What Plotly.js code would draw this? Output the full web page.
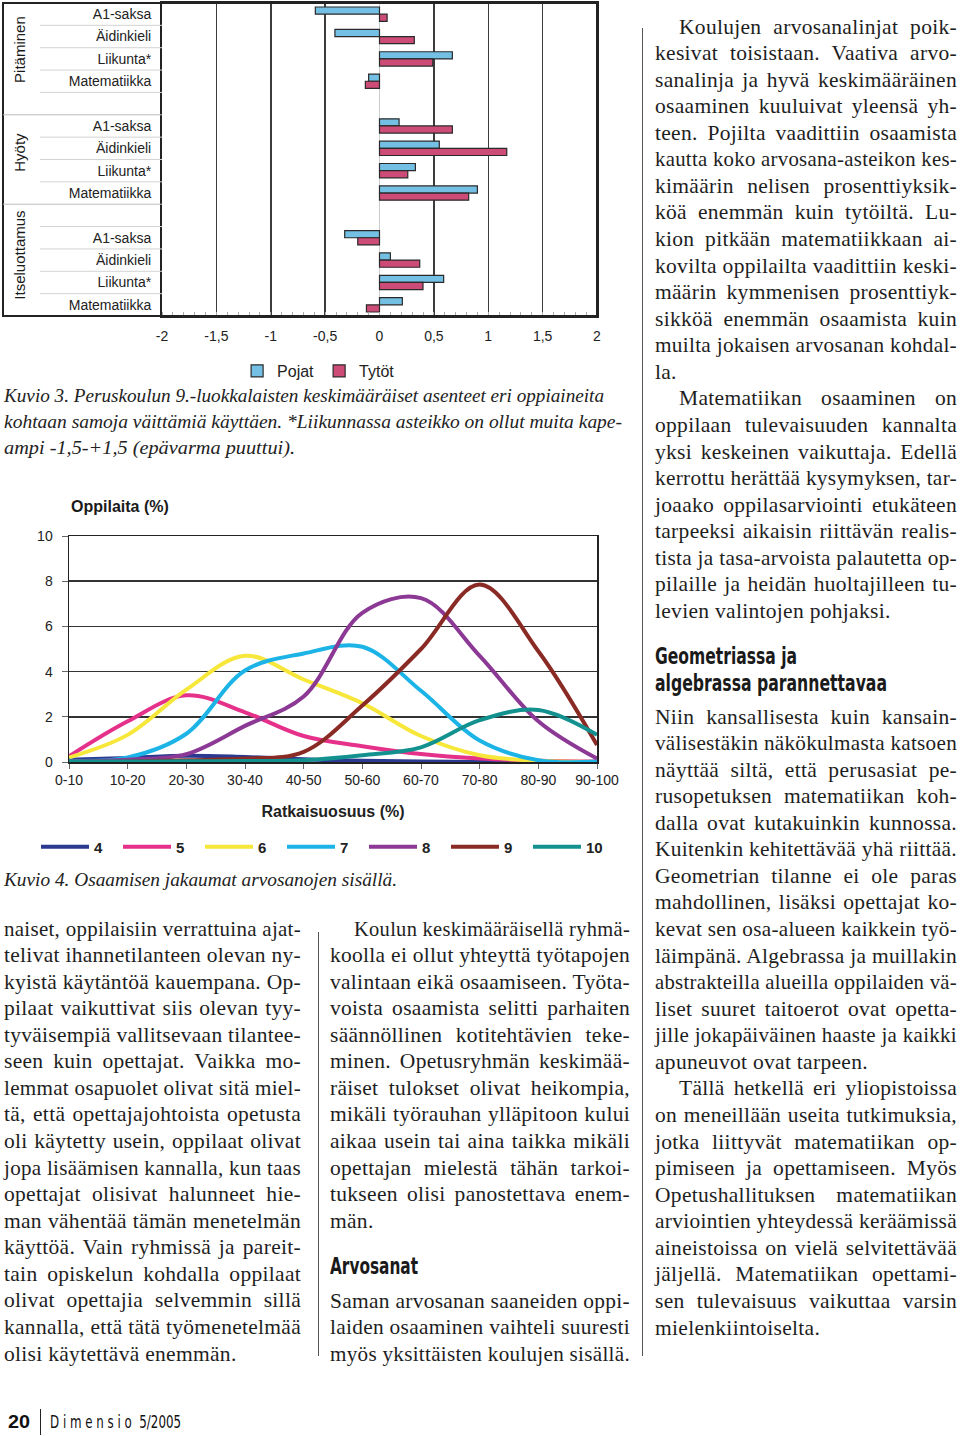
<!DOCTYPE html>
<html><head><meta charset="utf-8">
<script src="https://cdn.plot.ly/plotly-3.0.1.min.js"></script>
<style>
html,body{margin:0;padding:0;background:#fff;}
body{width:960px;height:1436px;position:relative;overflow:hidden;}
.chart{position:absolute;}
.ln{position:absolute;height:27px;line-height:27px;white-space:nowrap;text-align:justify;text-align-last:left;
  font-family:"Liberation Serif",serif;font-size:21.5px;letter-spacing:0.3px;color:#1e1e1e;}
.cap{position:absolute;white-space:nowrap;font-family:"Liberation Serif",serif;font-style:italic;font-size:19.5px;color:#222;line-height:24px;}
.hd{position:absolute;white-space:nowrap;font-family:"DejaVu Sans Condensed","DejaVu Sans",sans-serif;font-stretch:condensed;font-weight:bold;font-size:23px;color:#1a1a1a;line-height:26px;}
.rule{position:absolute;background:#555;width:1px;}
.foot{position:absolute;white-space:nowrap;font-family:"DejaVu Sans Condensed","DejaVu Sans",sans-serif;color:#111;}
</style>
</head><body>
<div id="c1" class="chart" style="left:0;top:0;width:620px;height:390px;"></div>
<div id="c2" class="chart" style="left:0;top:480px;width:640px;height:400px;"></div>
<script>
// ---------- Kuvio 3 data ----------
const rowLabels = ['A1-saksa','Äidinkieli','Liikunta*','Matematiikka','',
                   'A1-saksa','Äidinkieli','Liikunta*','Matematiikka','',
                   'A1-saksa','Äidinkieli','Liikunta*','Matematiikka'];
const groupNames = ['Pitäminen','Hyöty','Itseluottamus'];
const groupCenters = [1.6, 6.2, 10.8];
const pojat = [-0.59,-0.41,0.67,-0.10,null, 0.18,0.55,0.33,0.90,null, -0.32,0.10,0.59,0.21];
const tytot = [0.07,0.32,0.49,-0.13,null, 0.67,1.17,0.26,0.82,null, -0.20,0.37,0.40,-0.12];
const barSeries = ['Pojat','Tytöt'];
const xTickVals = [-2,-1.5,-1,-0.5,0,0.5,1,1.5,2];
const xTickText = ['-2','-1,5','-1','-0,5','0','0,5','1','1,5','2'];

// ---------- Kuvio 4 data ----------
const bins = ['0-10','10-20','20-30','30-40','40-50','50-60','60-70','70-80','80-90','90-100'];
const grades = ['4','5','6','7','8','9','10'];
const g4  = [0.10,0.18,0.28,0.22,0.12,0.05,0.02,0.00,0.00,0.00];
const g5  = [0.25,1.80,2.95,2.20,1.15,0.70,0.35,0.15,0.06,0.02];
const g6  = [0.20,1.20,3.20,4.70,3.65,2.60,1.15,0.30,0.05,0.00];
const g7  = [0.05,0.20,1.25,4.05,4.80,5.10,3.15,0.95,0.08,0.02];
const g8  = [0.03,0.10,0.35,1.60,2.90,6.60,7.25,4.70,1.80,0.15];
const g9  = [0.00,0.02,0.08,0.15,0.45,2.50,5.00,7.85,4.90,0.75];
const g10 = [0.02,0.02,0.03,0.04,0.08,0.30,0.65,1.85,2.30,1.20];
const gradeSeries = [g4,g5,g6,g7,g8,g9,g10];
const gradeColors = ['#2b3990','#e5318a','#f6e73a','#1cb3e6','#8c3895','#8a2a24','#13918f'];

const sans = 'Liberation Sans, Arial, sans-serif';

// ---------- Chart 1 ----------
(function(){
  const W = 620, H = 390, L = 162, R = 23, T = 3, B = 73;
  const pw = W - L - R;
  const rows = rowLabels.map((_, i) => i);
  const n = rows.length;
  const traces = [
    {type:'bar', orientation:'h', name:barSeries[0], y:rows, x:pojat,
     marker:{color:'#74c0e4', line:{color:'#2a2a2a', width:1.2}}, hoverinfo:'x'},
    {type:'bar', orientation:'h', name:barSeries[1], y:rows, x:tytot,
     marker:{color:'#cc4b77', line:{color:'#2a2a2a', width:1.2}}, hoverinfo:'x'}
  ];
  const frameX0 = (3 - L) / pw, subX0 = (40 - L) / pw;
  const shapes = [{type:'rect', xref:'paper', yref:'paper', x0:frameX0, x1:1, y0:0, y1:1,
                   line:{color:'#222', width:2}, layer:'above'}];
  for (let k = 0; k < n - 1; k++) {
    const full = (k === 4 || k === 8);
    const yy = (n - 1 - k) / n;
    shapes.push({type:'line', xref:'paper', yref:'paper', x0: full ? frameX0 : subX0, x1:0, y0:yy, y1:yy,
      line:{color: full ? '#bdbdbd' : '#d3d3d3', width:1}});
  }
  const annotations = groupNames.map((g, i) => ({
    text:g, xref:'paper', yref:'y', x:(20 - L) / pw, y:groupCenters[i], textangle:-90,
    showarrow:false, font:{family:sans, size:15, color:'#1a1a1a'}, xanchor:'center', yanchor:'middle'}));
  const layout = {
    width:W, height:H, margin:{l:L, r:R, t:T, b:B},
    paper_bgcolor:'rgba(0,0,0,0)', plot_bgcolor:'#fff',
    barmode:'group', bargap:0.36, bargroupgap:0,
    font:{family:sans, size:14, color:'#222'},
    xaxis:{range:[-2,2], tickmode:'array', tickvals:xTickVals, ticktext:xTickText,
      showgrid:true, gridcolor:'#3c3c3c', gridwidth:1.5, zeroline:true, zerolinecolor:'#cccccc', zerolinewidth:1,
      showline:true, mirror:true, linecolor:'#222', linewidth:2, ticks:'', ticklabelstandoff:6,
      minor:{tickmode:'linear', tick0:0, dtick:0.1, ticks:'inside', ticklen:4, tickcolor:'#aaa', showgrid:false},
      tickfont:{size:14}, fixedrange:true},
    yaxis:{range:[n - 0.5, -0.5], tickmode:'array', tickvals:rows, ticktext:rowLabels,
      showgrid:false, zeroline:false, showline:true, mirror:true, linecolor:'#222', linewidth:2,
      ticks:'', ticklabelstandoff:6, tickfont:{size:14}, fixedrange:true},
    legend:{orientation:'h', x:0.36, xanchor:'center', y:-(371 - 317) / (H - T - B), yanchor:'middle',
      font:{size:16}, itemwidth:30, traceorder:'normal'},
    shapes:shapes, annotations:annotations, showlegend:true
  };
  Plotly.newPlot('c1', traces, layout, {displayModeBar:false, staticPlot:true});
})();

// ---------- Chart 2 ----------
(function(){
  const W = 640, H = 400, L = 69, R = 43, T = 56, B = 118;
  const pw = W - L - R, ph = H - T - B;
  const traces = grades.map((g, i) => ({
    type:'scatter', mode:'lines', name:g, x:bins, y:gradeSeries[i],
    line:{color:gradeColors[i], width:4, shape:'spline', smoothing:1}, hoverinfo:'y'}));
  const layout = {
    width:W, height:H, margin:{l:L, r:R, t:T, b:B},
    paper_bgcolor:'rgba(0,0,0,0)', plot_bgcolor:'#fff',
    font:{family:sans, size:14, color:'#222'},
    xaxis:{type:'category', range:[0, bins.length - 1], showgrid:false, zeroline:false,
      showline:true, mirror:true, linecolor:'#222', linewidth:1.5,
      ticks:'outside', ticklen:5, tickcolor:'#666', ticklabelstandoff:0, tickfont:{size:14},
      title:{text:'Ratkaisuosuus (%)', font:{size:16, weight:'bold'}, standoff:18}, fixedrange:true},
    yaxis:{range:[0,10], dtick:2, showgrid:true, gridcolor:'#333', gridwidth:1.5, zeroline:false,
      showline:true, mirror:true, linecolor:'#222', linewidth:1.5,
      ticks:'outside', ticklen:6, tickcolor:'#666', ticklabelstandoff:6, tickfont:{size:14}, fixedrange:true},
    legend:{orientation:'h', x:(36 - L) / pw, xanchor:'left', y:-(847 - 762) / ph, yanchor:'middle',
      entrywidth:19, entrywidthmode:'pixels', itemwidth:48, font:{size:15, weight:'bold'}},
    annotations:[{text:'Oppilaita (%)', xref:'paper', yref:'paper', x:0, y:1 + (56 - 26) / ph,
      xanchor:'left', yanchor:'middle', showarrow:false, font:{family:sans, size:16, weight:'bold', color:'#1a1a1a'}}],
    showlegend:true
  };
  Plotly.newPlot('c2', traces, layout, {displayModeBar:false, staticPlot:true});
})();

// ---------- Text ----------
const LH = 26.57;
function textLine(text, x, yc, W, opts) {
  opts = opts || {};
  const d = document.createElement('div');
  d.className = 'ln';
  const indent = opts.indent ? 24 : 0;
  d.style.left = (x + indent) + 'px';
  d.style.top = (yc - 13.5) + 'px';
  d.style.width = (W - indent) + 'px';
  const s = document.createElement('span');
  s.textContent = text;
  d.appendChild(s);
  document.body.appendChild(d);
  const avail = W - indent;
  const nat = s.getBoundingClientRect().width;
  if (nat > avail) {
    s.style.display = 'inline-block';
    s.style.transformOrigin = '0 50%';
    s.style.transform = 'scaleX(' + (avail / nat) + ')';
  } else if (!opts.last) {
    d.style.textAlignLast = 'justify';
  }
}
function column(lines, x, y0, W) {
  lines.forEach((t, i) => {
    let indent = false, last = false;
    if (t[0] === '>') { indent = true; t = t.slice(1); }
    if (t[t.length - 1] === '|') { last = true; t = t.slice(0, -1); }
    textLine(t, x, y0 + i * LH, W, {indent, last});
  });
}
function fitted(cls, text, x, yc, target, extraStyle) {
  const d = document.createElement('div');
  d.className = cls;
  d.textContent = text;
  if (extraStyle) Object.assign(d.style, extraStyle);
  d.style.left = x + 'px';
  document.body.appendChild(d);
  const r = d.getBoundingClientRect();
  d.style.top = (yc - r.height / 2) + 'px';
  d.style.transformOrigin = '0 50%';
  d.style.transform = 'scaleX(' + (target / r.width) + ')';
}

const rightA = [
'>Koulujen arvosanalinjat poik-','kesivat toisistaan. Vaativa arvo-','sanalinja ja hyvä keskimääräinen',
'osaaminen kuuluivat yleensä yh-','teen. Pojilta vaadittiin osaamista','kautta koko arvosana-asteikon kes-',
'kimäärin nelisen prosenttiyksik-','köä enemmän kuin tytöiltä. Lu-','kion pitkään matematiikkaan ai-',
'kovilta oppilailta vaadittiin keski-','määrin kymmenisen prosenttiyk-','sikköä enemmän osaamista kuin',
'muilta jokaisen arvosanan kohdal-','la.|','>Matematiikan osaaminen on','oppilaan tulevaisuuden kannalta',
'yksi keskeinen vaikuttaja. Edellä','kerrottu herättää kysymyksen, tar-','joaako oppilasarviointi etukäteen',
'tarpeeksi aikaisin riittävän realis-','tista ja tasa-arvoista palautetta op-','pilaille ja heidän huoltajilleen tu-',
'levien valintojen pohjaksi.|'];
const rightB = [
'Niin kansallisesta kuin kansain-','välisestäkin näkökulmasta katsoen','näyttää siltä, että perusasiat pe-',
'rusopetuksen matematiikan koh-','dalla ovat kutakuinkin kunnossa.','Kuitenkin kehitettävää yhä riittää.',
'Geometrian tilanne ei ole paras','mahdollinen, lisäksi opettajat ko-','kevat sen osa-alueen kaikkein työ-',
'läimpänä. Algebrassa ja muillakin','abstrakteilla alueilla oppilaiden vä-','liset suuret taitoerot ovat opetta-',
'jille jokapäiväinen haaste ja kaikki','apuneuvot ovat tarpeen.|','>Tällä hetkellä eri yliopistoissa',
'on meneillään useita tutkimuksia,','jotka liittyvät matematiikan op-','pimiseen ja opettamiseen. Myös',
'Opetushallituksen matematiikan','arviointien yhteydessä keräämissä','aineistoissa on vielä selvitettävää',
'jäljellä. Matematiikan opettami-','sen tulevaisuus vaikuttaa varsin','mielenkiintoiselta.|'];
const leftCol = [
'naiset, oppilaisiin verrattuina ajat-','telivat ihannetilanteen olevan ny-','kyistä käytäntöä kauempana. Op-',
'pilaat vaikuttivat siis olevan tyy-','tyväisempiä vallitsevaan tilantee-','seen kuin opettajat. Vaikka mo-',
'lemmat osapuolet olivat sitä miel-','tä, että opettajajohtoista opetusta','oli käytetty usein, oppilaat olivat',
'jopa lisäämisen kannalla, kun taas','opettajat olisivat halunneet hie-','man vähentää tämän menetelmän',
'käyttöä. Vain ryhmissä ja pareit-','tain opiskelun kohdalla oppilaat','olivat opettajia selvemmin sillä',
'kannalla, että tätä työmenetelmää','olisi käytettävä enemmän.|'];
const midA = [
'>Koulun keskimääräisellä ryhmä-','koolla ei ollut yhteyttä työtapojen','valintaan eikä osaamiseen. Työta-',
'voista osaamista selitti parhaiten','säännöllinen kotitehtävien teke-','minen. Opetusryhmän keskimää-',
'räiset tulokset olivat heikompia,','mikäli työrauhan ylläpitoon kului','aikaa usein tai aina taikka mikäli',
'opettajan mielestä tähän tarkoi-','tukseen olisi panostettava enem-','män.|'];
const midB = ['Saman arvosanan saaneiden oppi-','laiden osaaminen vaihteli suuresti','myös yksittäisten koulujen sisällä.'];

column(rightA, 655, 27, 302);
column(rightB, 655, 717, 302);
column(leftCol, 4, 929, 297);
column(midA, 330, 929, 300);
column(midB, 330, 1301, 300);

fitted('hd', 'Geometriassa ja', 655, 656, 142);
fitted('hd', 'algebrassa parannettavaa', 655, 683, 232);
fitted('hd', 'Arvosanat', 330, 1266, 88);

fitted('cap', 'Kuvio 3. Peruskoulun 9.-luokkalaisten keskimääräiset asenteet eri oppiaineita', 4, 396, 600);
fitted('cap', 'kohtaan samoja väittämiä käyttäen. *Liikunnassa asteikko on ollut muita kape-', 4, 422, 618);
fitted('cap', 'ampi -1,5-+1,5 (epävarma puuttui).', 4, 448, 291);
fitted('cap', 'Kuvio 4. Osaamisen jakaumat arvosanojen sisällä.', 4, 880, 393);

// rules
[[642, 28, 1328], [318, 932, 424]].forEach(r => {
  const d = document.createElement('div'); d.className = 'rule';
  d.style.left = r[0] + 'px'; d.style.top = r[1] + 'px'; d.style.height = r[2] + 'px';
  document.body.appendChild(d);
});
// footer
fitted('foot', '20', 8, 1422, 22, {fontWeight:'bold', fontSize:'19px', fontFamily:'"Liberation Sans",Arial,sans-serif'});
(function(){ const d = document.createElement('div'); d.className='rule';
  d.style.left='40px'; d.style.top='1409px'; d.style.height='26px'; d.style.background='#222'; document.body.appendChild(d); })();
fitted('foot', 'D i m e n s i o  5/2005', 50, 1422, 131, {fontSize:'17px', whiteSpace:'pre'});
</script>
</body></html>
